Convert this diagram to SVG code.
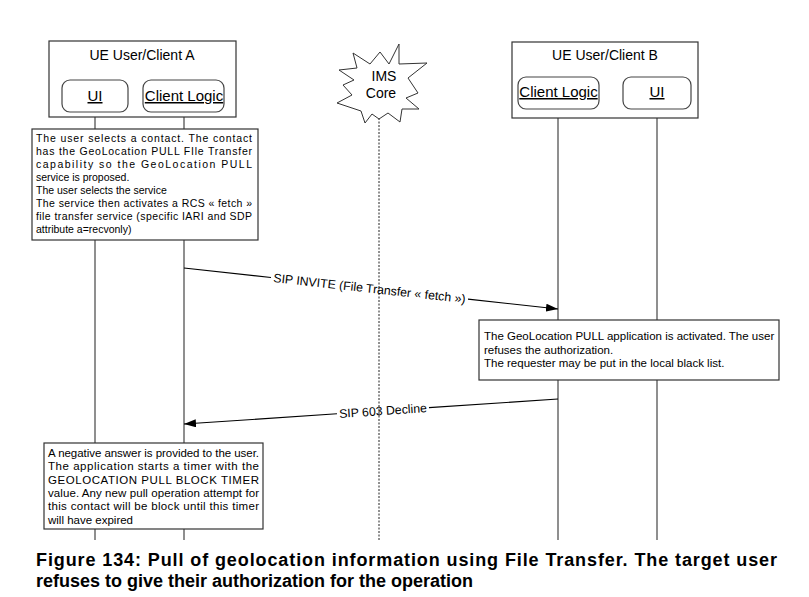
<svg xmlns="http://www.w3.org/2000/svg" width="809" height="597" viewBox="0 0 809 597">
<style>
text{font-family:"Liberation Sans",Arial,sans-serif;fill:#000}
.box{fill:#fff;stroke:#333;stroke-width:1.2}
.sub{fill:#fff;stroke:#444;stroke-width:1.2}
.title{font-size:14px;text-anchor:middle}
.lbl{font-size:15px;text-anchor:middle;text-decoration:underline}
.life{stroke:#6a6a6a;stroke-width:1.5;fill:none}
.dash{stroke:#222;stroke-width:1;stroke-dasharray:2 1.5;fill:none}
.msg{stroke:#000;stroke-width:1.1;fill:none}
.ml{font-size:12.3px;text-anchor:middle}
.na{font-size:10.5px}
.nb{font-size:11.5px}
.cap{font-size:18px;font-weight:bold}
</style>
<defs>
<marker id="ah" viewBox="0 0 12 8" refX="12" refY="4" markerWidth="12" markerHeight="8" markerUnits="userSpaceOnUse" orient="auto"><path d="M0,0 L12,4 L0,8 z" fill="#000"/></marker>
</defs>
<rect width="809" height="597" fill="#fff"/>

<g id="lifelines">
<line class="life" x1="95" y1="112" x2="95" y2="540"/>
<line class="life" x1="184" y1="112" x2="184" y2="540"/>
<line class="dash" x1="379" y1="118" x2="379" y2="540"/>
<line class="life" x1="558" y1="109" x2="558" y2="540"/>
<line class="life" x1="657" y1="109" x2="657" y2="540"/>
</g>

<g id="clientA">
<rect class="box" x="49" y="41" width="187" height="76"/>
<text class="title" x="142" y="60">UE User/Client A</text>
<g id="uiA">
<rect class="sub" x="62" y="80" width="66" height="32" rx="8"/>
<text class="lbl" x="95" y="101">UI</text>
</g>
<g id="logicA">
<rect class="sub" x="143" y="80" width="81" height="32" rx="8"/>
<text class="lbl" x="184" y="101">Client Logic</text>
</g>
</g>

<g id="ims">
<polygon points="353,53 370,64 380,52 389,64 399,44 399,64 427,63 408,78 418,93 406,98 419,109 402,109 400,122 388,113 379,119 372,114 365,123 361,111 337,103 352,95 343,85 354,80 339,70 357,68" fill="#fff" stroke="#333" stroke-width="1"/>
<text class="title" x="384" y="81">IMS</text>
<text class="title" x="381" y="98">Core</text>
</g>

<g id="clientB">
<rect class="box" x="512" y="42" width="186" height="76"/>
<text class="title" x="605" y="60">UE User/Client B</text>
<g id="logicB">
<rect class="sub" x="518" y="77" width="81" height="32" rx="8"/>
<text class="lbl" x="558.5" y="97">Client Logic</text>
</g>
<g id="uiB">
<rect class="sub" x="623" y="77" width="68" height="32" rx="8"/>
<text class="lbl" x="657" y="97">UI</text>
</g>
</g>

<g id="noteA">
<rect class="box" x="32" y="129" width="226" height="111"/>
<text class="na" x="36" y="142" textLength="216">The user selects a contact. The contact</text>
<text class="na" x="36" y="155" textLength="216">has the GeoLocation PULL FIle Transfer</text>
<text class="na" x="36" y="168" textLength="216">capability so the GeoLocation PULL</text>
<text class="na" x="36" y="181">service is proposed.</text>
<text class="na" x="36" y="194">The user selects the service</text>
<text class="na" x="36" y="207" textLength="216">The service then activates a RCS « fetch »</text>
<text class="na" x="36" y="220" textLength="216">file transfer service (specific IARI and SDP</text>
<text class="na" x="36" y="233">attribute a=recvonly)</text>
</g>

<g id="noteB">
<rect class="box" x="479" y="320" width="300" height="60"/>
<text class="nb" x="484" y="340">The GeoLocation PULL application is activated. The user</text>
<text class="nb" x="484" y="353.5">refuses the authorization.</text>
<text class="nb" x="484" y="367">The requester may be put in the local black list.</text>
</g>

<g id="noteA2">
<rect class="box" x="44" y="443" width="219" height="86"/>
<text class="nb" x="48" y="457" textLength="211">A negative answer is provided to the user.</text>
<text class="nb" x="48" y="470.3" textLength="211">The application starts a timer with the</text>
<text class="nb" x="48" y="483.6" textLength="211">GEOLOCATION PULL BLOCK TIMER</text>
<text class="nb" x="48" y="496.9" textLength="211">value. Any new pull operation attempt for</text>
<text class="nb" x="48" y="510.2" textLength="211">this contact will be block until this timer</text>
<text class="nb" x="48" y="523.5">will have expired</text>
</g>

<g id="connectors">
<line class="msg" x1="184" y1="268" x2="271" y2="277.5"/>
<line class="msg" x1="468" y1="299.1" x2="558" y2="309" marker-end="url(#ah)"/>
<text class="ml" x="369.5" y="292.6" transform="rotate(6.26 369.5 288.3)">SIP INVITE (File Transfer « fetch »)</text>
<line class="msg" x1="558" y1="399" x2="429" y2="407.6"/>
<line class="msg" x1="337" y1="413.8" x2="184" y2="424" marker-end="url(#ah)"/>
<text class="ml" x="383" y="415" transform="rotate(-3.82 383 410.7)">SIP 603 Decline</text>
</g>

<g id="caption">
<text class="cap" x="36" y="566" textLength="741">Figure 134: Pull of geolocation information using File Transfer. The target user</text>
<text class="cap" x="36" y="587">refuses to give their authorization for the operation</text>
</g>
</svg>
